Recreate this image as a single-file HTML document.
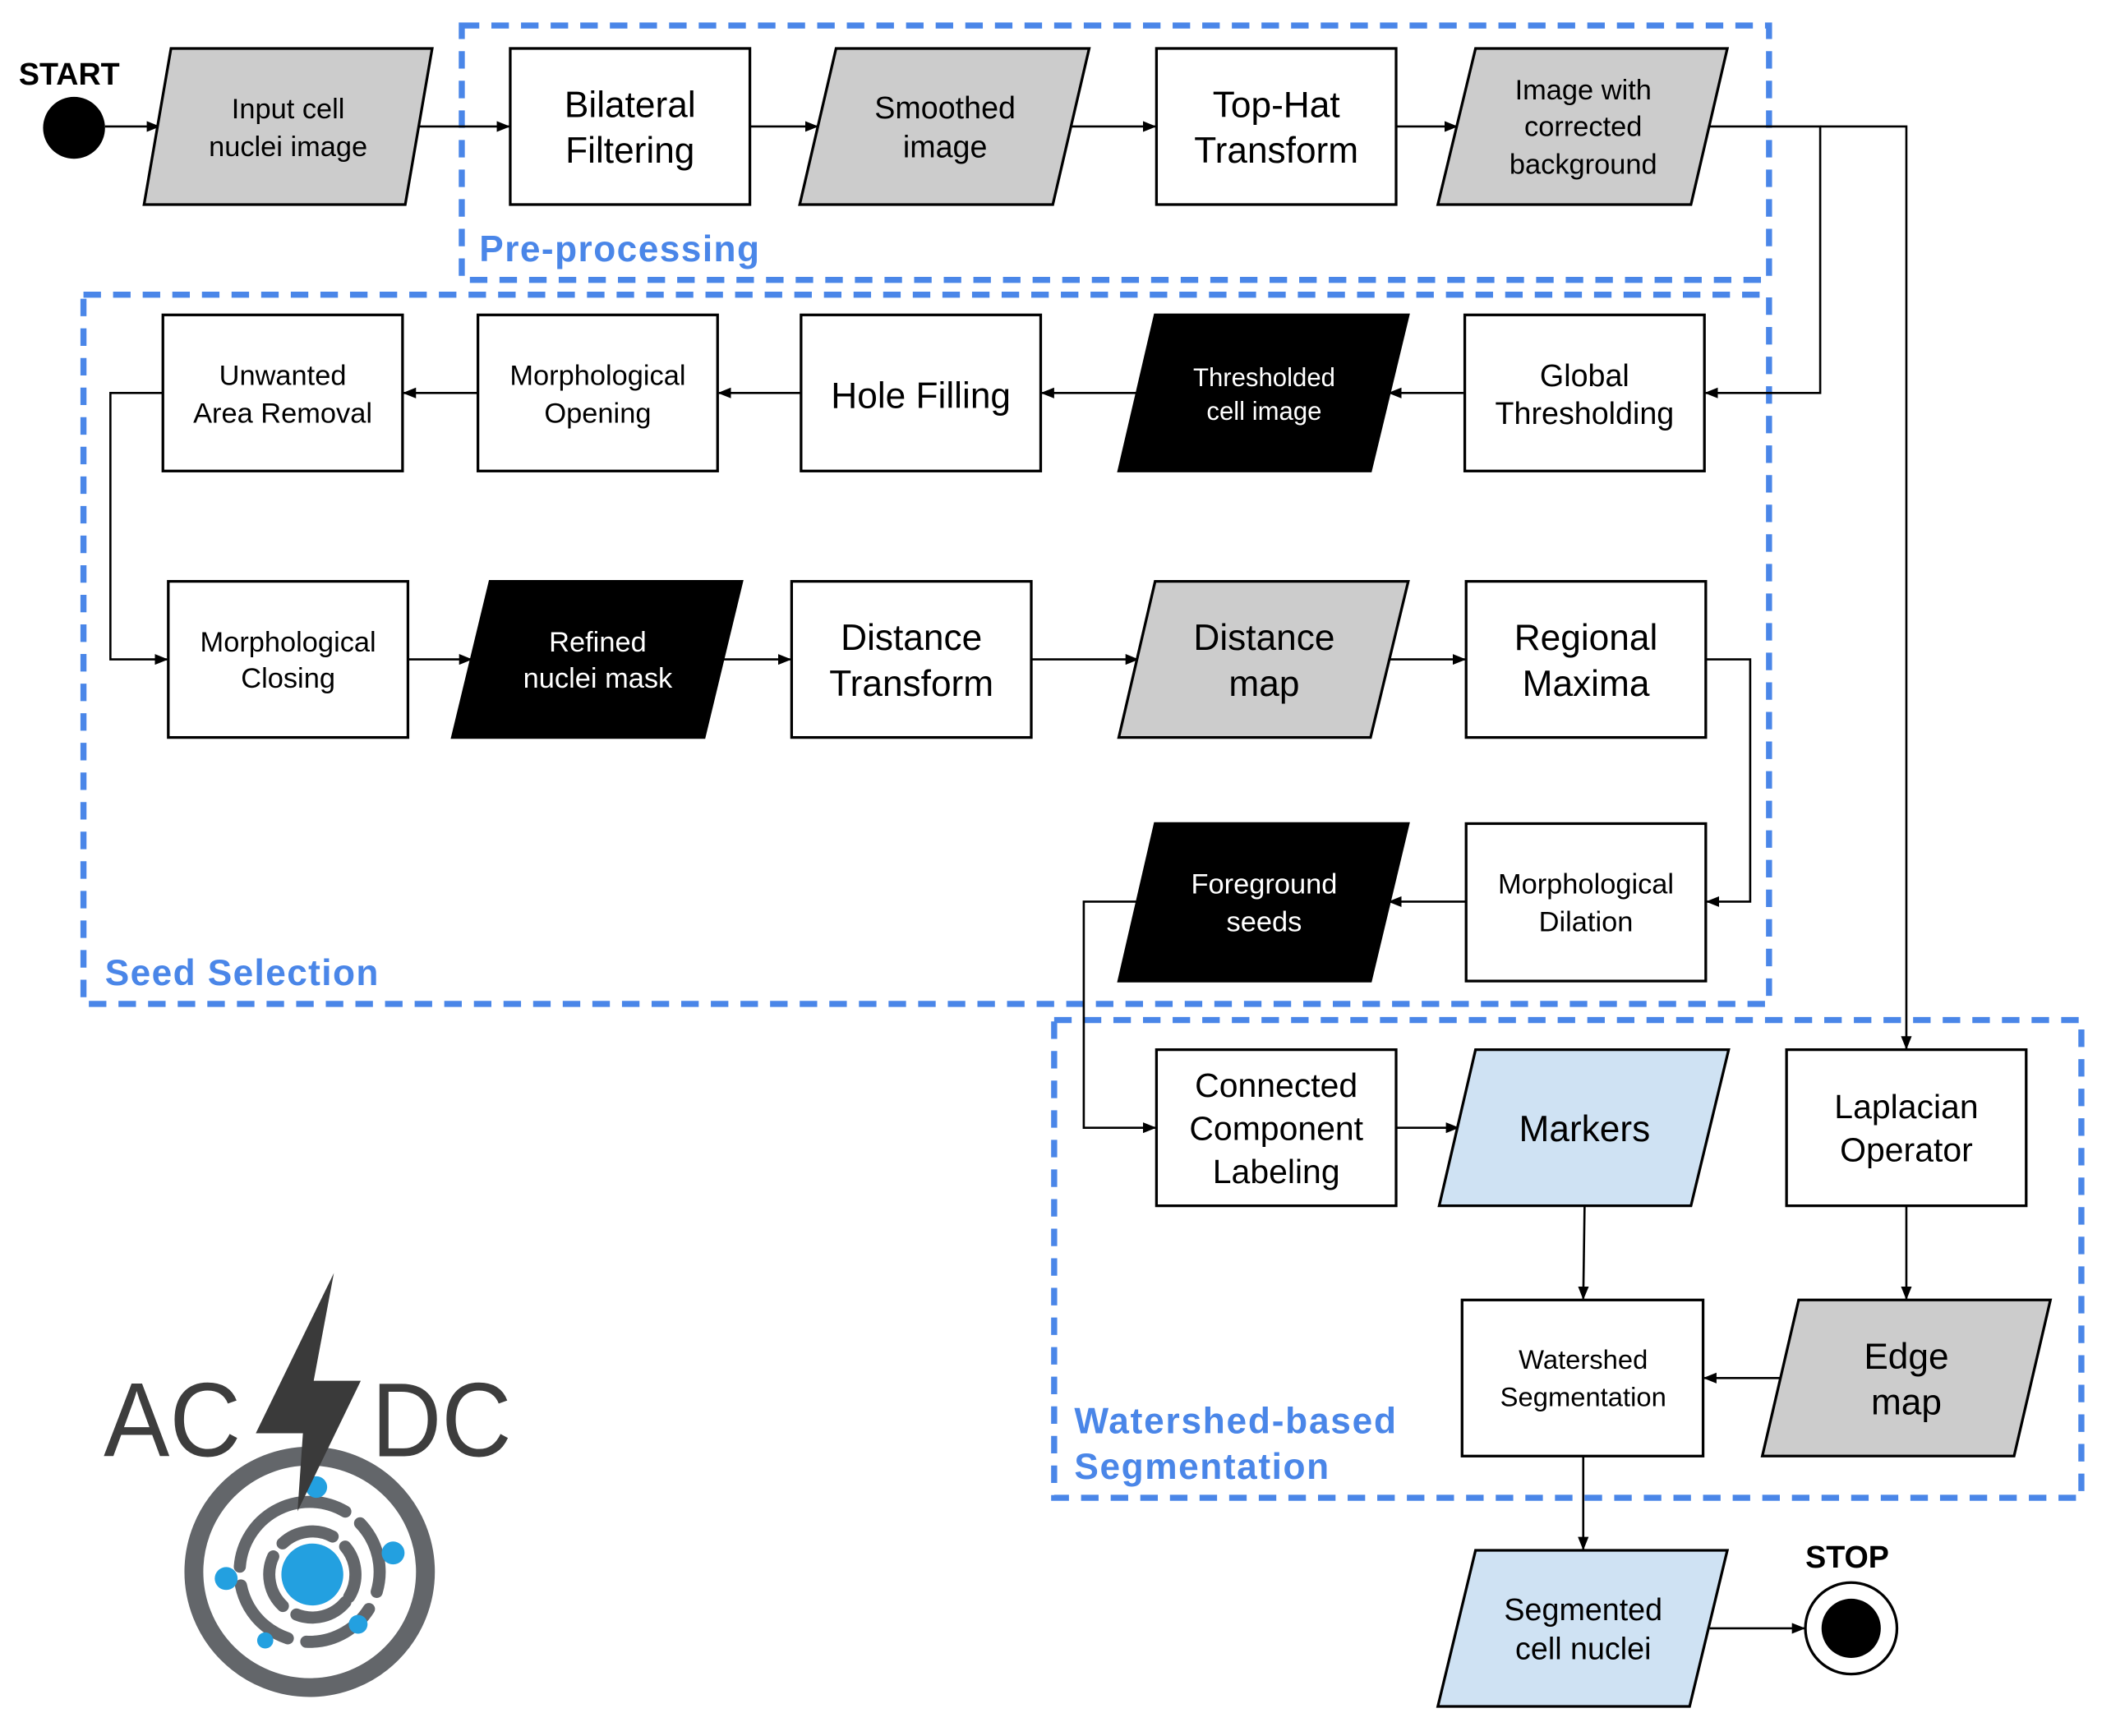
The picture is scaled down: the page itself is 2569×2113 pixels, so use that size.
<!DOCTYPE html>
<html><head><meta charset="utf-8">
<style>html,body{margin:0;padding:0;background:#fff}svg{display:block}</style>
</head><body>
<svg width="2569" height="2113" viewBox="0 0 1568 1290" preserveAspectRatio="none" xmlns="http://www.w3.org/2000/svg" font-family="Liberation Sans, Arial, sans-serif">
<defs>
<marker id="a" markerWidth="10" markerHeight="8" refX="9" refY="4" orient="auto" markerUnits="userSpaceOnUse"><path d="M0,0 L10,4 L0,8 z" fill="#000"/></marker>
</defs>
<g fill="none" stroke="#4a86e8" stroke-width="4.5" stroke-dasharray="13,9">
<rect x="343" y="19" width="971" height="189"/>
<rect x="62" y="219" width="1252" height="527"/>
<rect x="783" y="758" width="763" height="355"/>
</g>
<g font-weight="bold" fill="#4a86e8" font-size="27" lengthAdjust="spacingAndGlyphs">
<text x="356" y="194" textLength="208">Pre-processing</text>
<text x="78" y="732" textLength="203">Seed Selection</text>
<text x="798" y="1065" textLength="239">Watershed-based</text>
<text x="798" y="1099" textLength="189">Segmentation</text>
</g>
<g stroke="#000" stroke-width="1.6" fill="none">
<path d="M78,94 H118" marker-end="url(#a)"/>
<path d="M308,94 H378" marker-end="url(#a)"/>
<path d="M557,94 H607" marker-end="url(#a)"/>
<path d="M796,94 H858" marker-end="url(#a)"/>
<path d="M1037,94 H1082" marker-end="url(#a)"/>
<path d="M1270,94 H1352 V292 H1267" marker-end="url(#a)"/>
<path d="M1352,94 H1416 V779" marker-end="url(#a)"/>
<path d="M1087,292 H1032" marker-end="url(#a)"/>
<path d="M845,292 H774" marker-end="url(#a)"/>
<path d="M595,292 H534" marker-end="url(#a)"/>
<path d="M355,292 H300" marker-end="url(#a)"/>
<path d="M121,292 H82 V490 H124" marker-end="url(#a)"/>
<path d="M303,490 H350" marker-end="url(#a)"/>
<path d="M537,490 H587" marker-end="url(#a)"/>
<path d="M766,490 H845" marker-end="url(#a)"/>
<path d="M1032,490 H1088" marker-end="url(#a)"/>
<path d="M1267,490 H1300 V670 H1268" marker-end="url(#a)"/>
<path d="M1089,670 H1032" marker-end="url(#a)"/>
<path d="M845,670 H805 V838 H858" marker-end="url(#a)"/>
<path d="M1037,838 H1083" marker-end="url(#a)"/>
<path d="M1177,896 L1176,965" marker-end="url(#a)"/>
<path d="M1416,896 V965" marker-end="url(#a)"/>
<path d="M1322,1024 H1266" marker-end="url(#a)"/>
<path d="M1176,1082 V1151" marker-end="url(#a)"/>
<path d="M1270,1210 H1340" marker-end="url(#a)"/>
</g>
<text x="14" y="63" font-size="23" font-weight="bold">START</text>
<circle cx="55" cy="95" r="23" fill="#000"/>
<text x="1341" y="1165" font-size="23" font-weight="bold">STOP</text>
<circle cx="1375" cy="1210" r="34" fill="#fff" stroke="#000" stroke-width="2"/>
<circle cx="1375" cy="1210" r="22" fill="#000"/>
<g stroke="#000" stroke-width="2">
<path d="M127,36 H321 L301,152 H107 z" fill="#cccccc"/>
<rect x="379" y="36" width="178" height="116" fill="#fff"/>
<path d="M621,36 H809 L782,152 H594 z" fill="#cccccc"/>
<rect x="859" y="36" width="178" height="116" fill="#fff"/>
<path d="M1096,36 H1283 L1256,152 H1068 z" fill="#cccccc"/>
<rect x="121" y="234" width="178" height="116" fill="#fff"/>
<rect x="355" y="234" width="178" height="116" fill="#fff"/>
<rect x="595" y="234" width="178" height="116" fill="#fff"/>
<path d="M858,234 H1046 L1018,350 H831 z" fill="#000"/>
<rect x="1088" y="234" width="178" height="116" fill="#fff"/>
<rect x="125" y="432" width="178" height="116" fill="#fff"/>
<path d="M364,432 H551 L523,548 H336 z" fill="#000"/>
<rect x="588" y="432" width="178" height="116" fill="#fff"/>
<path d="M858,432 H1046 L1018,548 H831 z" fill="#cccccc"/>
<rect x="1089" y="432" width="178" height="116" fill="#fff"/>
<path d="M858,612 H1046 L1018,729 H831 z" fill="#000"/>
<rect x="1089" y="612" width="178" height="117" fill="#fff"/>
<rect x="859" y="780" width="178" height="116" fill="#fff"/>
<path d="M1096,780 H1284 L1256,896 H1069 z" fill="#cfe2f3"/>
<rect x="1327" y="780" width="178" height="116" fill="#fff"/>
<rect x="1086" y="966" width="179" height="116" fill="#fff"/>
<path d="M1336,966 H1523 L1496,1082 H1309 z" fill="#cccccc"/>
<path d="M1096,1152 H1283 L1255,1268 H1068 z" fill="#cfe2f3"/>
</g>
<g text-anchor="middle" fill="#000">
<g font-size="21"><text x="214" y="88">Input cell</text><text x="214" y="116">nuclei image</text></g>
<g font-size="27"><text x="468" y="87">Bilateral</text><text x="468" y="121">Filtering</text></g>
<g font-size="23"><text x="702" y="88">Smoothed</text><text x="702" y="117">image</text></g>
<g font-size="27"><text x="948" y="87">Top-Hat</text><text x="948" y="121">Transform</text></g>
<g font-size="21"><text x="1176" y="74">Image with</text><text x="1176" y="101">corrected</text><text x="1176" y="129">background</text></g>
<g font-size="21"><text x="210" y="286">Unwanted</text><text x="210" y="314">Area Removal</text></g>
<g font-size="21"><text x="444" y="286">Morphological</text><text x="444" y="314">Opening</text></g>
<text x="684" y="303" font-size="27">Hole Filling</text>
<g font-size="19" fill="#fff"><text x="939" y="287">Thresholded</text><text x="939" y="312">cell image</text></g>
<g font-size="23"><text x="1177" y="287">Global</text><text x="1177" y="315">Thresholding</text></g>
<g font-size="21"><text x="214" y="484">Morphological</text><text x="214" y="511">Closing</text></g>
<g font-size="21" fill="#fff"><text x="444" y="484">Refined</text><text x="444" y="511">nuclei mask</text></g>
<g font-size="27"><text x="677" y="483">Distance</text><text x="677" y="517">Transform</text></g>
<g font-size="27"><text x="939" y="483">Distance</text><text x="939" y="517">map</text></g>
<g font-size="27"><text x="1178" y="483">Regional</text><text x="1178" y="517">Maxima</text></g>
<g font-size="21" fill="#fff"><text x="939" y="664">Foreground</text><text x="939" y="692">seeds</text></g>
<g font-size="21"><text x="1178" y="664">Morphological</text><text x="1178" y="692">Dilation</text></g>
<g font-size="25"><text x="948" y="815">Connected</text><text x="948" y="847">Component</text><text x="948" y="879">Labeling</text></g>
<text x="1177" y="848" font-size="27">Markers</text>
<g font-size="25"><text x="1416" y="831">Laplacian</text><text x="1416" y="863">Operator</text></g>
<g font-size="20"><text x="1176" y="1017">Watershed</text><text x="1176" y="1045">Segmentation</text></g>
<g font-size="27"><text x="1416" y="1017">Edge</text><text x="1416" y="1051">map</text></g>
<g font-size="23"><text x="1176" y="1204">Segmented</text><text x="1176" y="1233">cell nuclei</text></g>
</g>
<g>
<text x="77" y="1082" font-size="78" fill="#3d3d3d" textLength="102" lengthAdjust="spacingAndGlyphs">AC</text>
<text x="276" y="1082" font-size="78" fill="#3d3d3d" textLength="104" lengthAdjust="spacingAndGlyphs">DC</text>
<circle cx="230" cy="1168" r="86" fill="none" stroke="#63666a" stroke-width="14"/>
<circle cx="230" cy="1168" r="52" fill="none" stroke="#63666a" stroke-width="9" stroke-dasharray="55,14" stroke-linecap="round" transform="rotate(-120 230 1168)"/>
<circle cx="232" cy="1170" r="32" fill="none" stroke="#63666a" stroke-width="9" stroke-dasharray="40,12" stroke-linecap="round" transform="rotate(40 232 1170)"/>
<circle cx="232" cy="1170" r="23" fill="#23a0e0"/>
<circle cx="235" cy="1105" r="8" fill="#23a0e0"/>
<circle cx="292" cy="1154" r="8.5" fill="#23a0e0"/>
<circle cx="168" cy="1173" r="8.5" fill="#23a0e0"/>
<circle cx="266" cy="1207" r="7" fill="#23a0e0"/>
<circle cx="197" cy="1219" r="6" fill="#23a0e0"/>
<path d="M248,946 L233,1026 L268,1026 L221,1123 L225,1065 L190,1065 z" fill="#3a3a3a"/>
</g>
</svg>
</body></html>
